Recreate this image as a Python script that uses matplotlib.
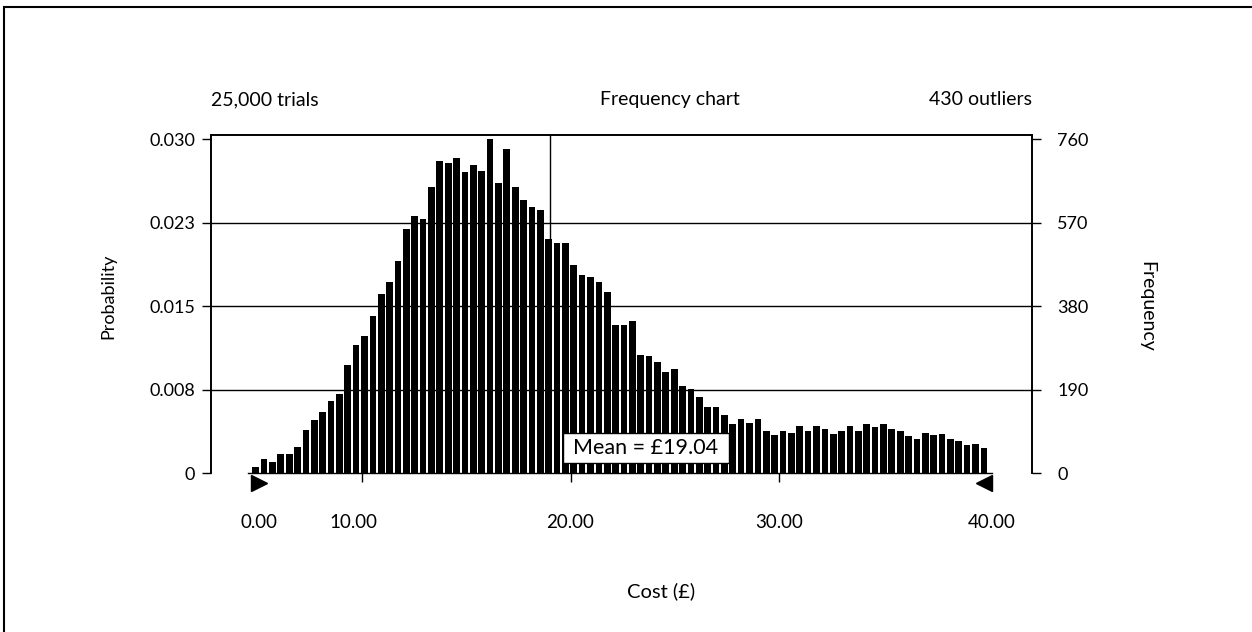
import numpy as np
import matplotlib.pyplot as plt
from matplotlib.patches import Rectangle
from matplotlib.transforms import blended_transform_factory

plt.rcParams['font.family'] = ['Lato', 'DejaVu Sans']
plt.rcParams['font.size'] = 13

# ---- data ----
n_trials = 25000
n_outliers = 430
mean_cost = 19.04
bin_start = 4.72     # cost (£) at left edge of first bin
bin_end = 40.0       # cost (£) at right edge of last bin
counts = [13, 32, 24, 43, 43, 59, 98, 121, 140, 164, 181, 247, 291, 313, 358,
          407, 435, 483, 555, 586, 578, 651, 711, 706, 717, 686, 701, 689, 761,
          661, 739, 651, 623, 607, 600, 534, 523, 523, 474, 450, 446, 434, 413,
          337, 337, 347, 268, 267, 253, 230, 237, 199, 191, 172, 150, 150, 131,
          112, 123, 115, 122, 95, 86, 96, 90, 106, 95, 107, 100, 88, 96, 106,
          95, 111, 104, 112, 100, 95, 85, 78, 90, 86, 89, 77, 74, 63, 65, 58]
freq_ticks = [0, 190, 380, 570, 760]
freq_labels = ['0', '190', '380', '570', '760']
prob_labels = ['0', '0.008', '0.015', '0.023', '0.030']
cost_ticks = [10, 20, 30]
range_labels = ['0.00', '40.00']

edges = np.linspace(bin_start, bin_end, len(counts) + 1)
width = edges[1] - edges[0]
centers = edges[:-1] + width / 2

fig = plt.figure(figsize=(12.52, 6.32), dpi=100)
ax = fig.add_axes([211 / 1252, 1 - 473 / 632, (1031.7 - 211) / 1252, 338 / 632])

# gridlines behind the bars
for f in freq_ticks[1:-1]:
    ax.axhline(f, color='black', lw=1, zorder=1)

ax.bar(centers, counts, width=width * 0.8, color='black', zorder=2)
ax.axvline(mean_cost, color='black', lw=1, zorder=3)
ax.plot([bin_start - 0.15, 40.18], [0, 0], color='black', lw=1,
        clip_on=False, zorder=3)

ax.set_xlim(2.78, 42.09)
ax.set_ylim(0, 770)

for side in ['left', 'right', 'top']:
    ax.spines[side].set_linewidth(1.2)
ax.spines['bottom'].set_visible(False)

ax.set_yticks(freq_ticks)
ax.set_yticklabels(prob_labels)
ax.tick_params(axis='y', direction='out', length=6.5, width=1, pad=5)

ax.set_xticks(cost_ticks)
ax.set_xticklabels([])
ax.tick_params(axis='x', direction='out', length=6.5, width=1)

ax2 = ax.twinx()
ax2.set_ylim(ax.get_ylim())
ax2.set_yticks(freq_ticks)
ax2.set_yticklabels(freq_labels)
ax2.tick_params(axis='y', direction='out', length=6.5, width=1, pad=12)
ax2.spines['bottom'].set_visible(False)
for side in ['left', 'right', 'top']:
    ax2.spines[side].set_linewidth(1.2)

# certainty range grabbers and their labels
ax.plot([bin_start + 0.36], [-22], marker='>', ms=11, color='black',
        clip_on=False, zorder=4)
ax.plot([40.18 - 0.36], [-22], marker='<', ms=11, color='black',
        clip_on=False, zorder=4)

trans = blended_transform_factory(ax.transData, ax.transAxes)
lab_y = -0.145
xkw = dict(transform=trans, ha='center', va='center', fontsize=13.5)
ax.text(5.07, lab_y, range_labels[0], **xkw)
ax.text(9.62, lab_y, f'{cost_ticks[0]:.2f}', **xkw)
ax.text(cost_ticks[1], lab_y, f'{cost_ticks[1]:.2f}', **xkw)
ax.text(cost_ticks[2], lab_y, f'{cost_ticks[2]:.2f}', **xkw)
ax.text(40.18, lab_y, range_labels[1], **xkw)

# mean label box
ax.add_patch(Rectangle((19.63, 22.8), 27.58 - 19.63, 91.2 - 22.8,
                       facecolor='white', edgecolor='black', lw=1, zorder=5))
ax.text(23.6, 57, f'Mean = £{mean_cost:.2f}', ha='center', va='center',
        fontsize=15.5, zorder=6)

# header texts
ax.text(0, 1.104, f'{n_trials:,} trials', transform=ax.transAxes,
        ha='left', va='center', fontsize=14)
ax.text((670 - 211) / (1031.7 - 211), 1.104, 'Frequency chart',
        transform=ax.transAxes, ha='center', va='center', fontsize=14)
ax.text(1, 1.104, f'{n_outliers} outliers', transform=ax.transAxes,
        ha='right', va='center', fontsize=14)

fig.text(108 / 1252, 1 - 296 / 632, 'Probability', rotation=90,
         ha='center', va='center', fontsize=13)
fig.text(1147 / 1252, 1 - 306 / 632, 'Frequency', rotation=270,
         ha='center', va='center', fontsize=14)
fig.text(661 / 1252, 1 - 591 / 632, 'Cost (£)', ha='center', va='center',
         fontsize=14.5)

# outer frame
fig.patches.append(Rectangle((4 / 1252, -0.1), 2, 1 - 7 / 632 + 0.1,
                             transform=fig.transFigure, fill=False,
                             edgecolor='black', lw=1.5))

fig.savefig('out.png', dpi=100)
